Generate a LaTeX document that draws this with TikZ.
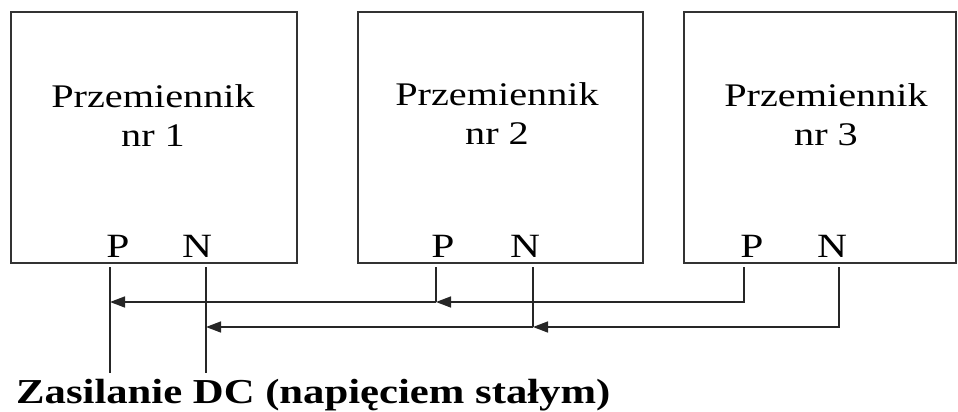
\documentclass[tikz,border=0pt]{standalone}
\usepackage{fontspec}
\setmainfont[FakeStretch=1.22]{Liberation Serif}
\usetikzlibrary{arrows.meta}
\tikzset{
convbox/.style={draw=black!80, line width=1.5pt, minimum height=251pt, inner sep=0pt},
convname/.style={font=\fontsize{33}{39}\selectfont, align=center, inner sep=0pt, anchor=base},
termlabel/.style={font=\fontsize{34}{40}\selectfont, inner sep=0pt, anchor=base},
wire/.style={draw=black!85, line width=1.5pt},
flowwire/.style={wire, -{Triangle[length=15pt,width=11pt]}}
}
\begin{document}
\begin{tikzpicture}[x=1pt, y=-1pt]
  \useasboundingbox (0,0) rectangle (958,412);
  % converters
  \node[convbox, minimum width=286pt] (conv1) at (154,137.5) {};
  \node[convbox, minimum width=285pt] (conv2) at (500.5,137.5) {};
  \node[convbox, minimum width=272pt] (conv3) at (820,137.5) {};
  \node[convname] (name1) at (153,146) {Przemiennik\\nr 1};
  \node[convname] (name2) at (497,144) {Przemiennik\\nr 2};
  \node[convname] (name3) at (826,145) {Przemiennik\\nr 3};
  % terminals
  \node[termlabel] (lp1) at (118,257) {P};
  \node[termlabel] (ln1) at (197,257) {N};
  \node[termlabel] (lp2) at (443,257) {P};
  \node[termlabel] (ln2) at (525,257) {N};
  \node[termlabel] (lp3) at (752,257) {P};
  \node[termlabel] (ln3) at (832,257) {N};
  \coordinate (p1top) at (110,267);
  \coordinate (n1top) at (206,267);
  \coordinate (p2top) at (436,267);
  \coordinate (n2top) at (533,267);
  \coordinate (p3top) at (744,267);
  \coordinate (n3top) at (839,267);
  \coordinate (p1end) at (110,373);
  \coordinate (n1end) at (206,373);
  \coordinate (p1bus) at (110,302);
  \coordinate (p2bus) at (436,302);
  \coordinate (p3bus) at (744,302);
  \coordinate (n1bus) at (206,327);
  \coordinate (n2bus) at (533,327);
  \coordinate (n3bus) at (839,327);
  % DC bus
  \draw[wire] (p1top) -- (p1end);
  \draw[wire] (n1top) -- (n1end);
  \draw[wire] (p2top) -- (p2bus);
  \draw[wire] (n2top) -- (n2bus);
  \draw[flowwire] (p3top) -- (p3bus) -- (p2bus);
  \draw[flowwire] (p2bus) -- (p1bus);
  \draw[flowwire] (n3top) -- (n3bus) -- (n2bus);
  \draw[flowwire] (n2bus) -- (n1bus);
  \node[font=\bfseries\fontsize{35}{42}\selectfont, inner sep=0pt, anchor=base west] (supply) at (16,403) {Zasilanie DC (napięciem stałym)};
\end{tikzpicture}
\end{document}
